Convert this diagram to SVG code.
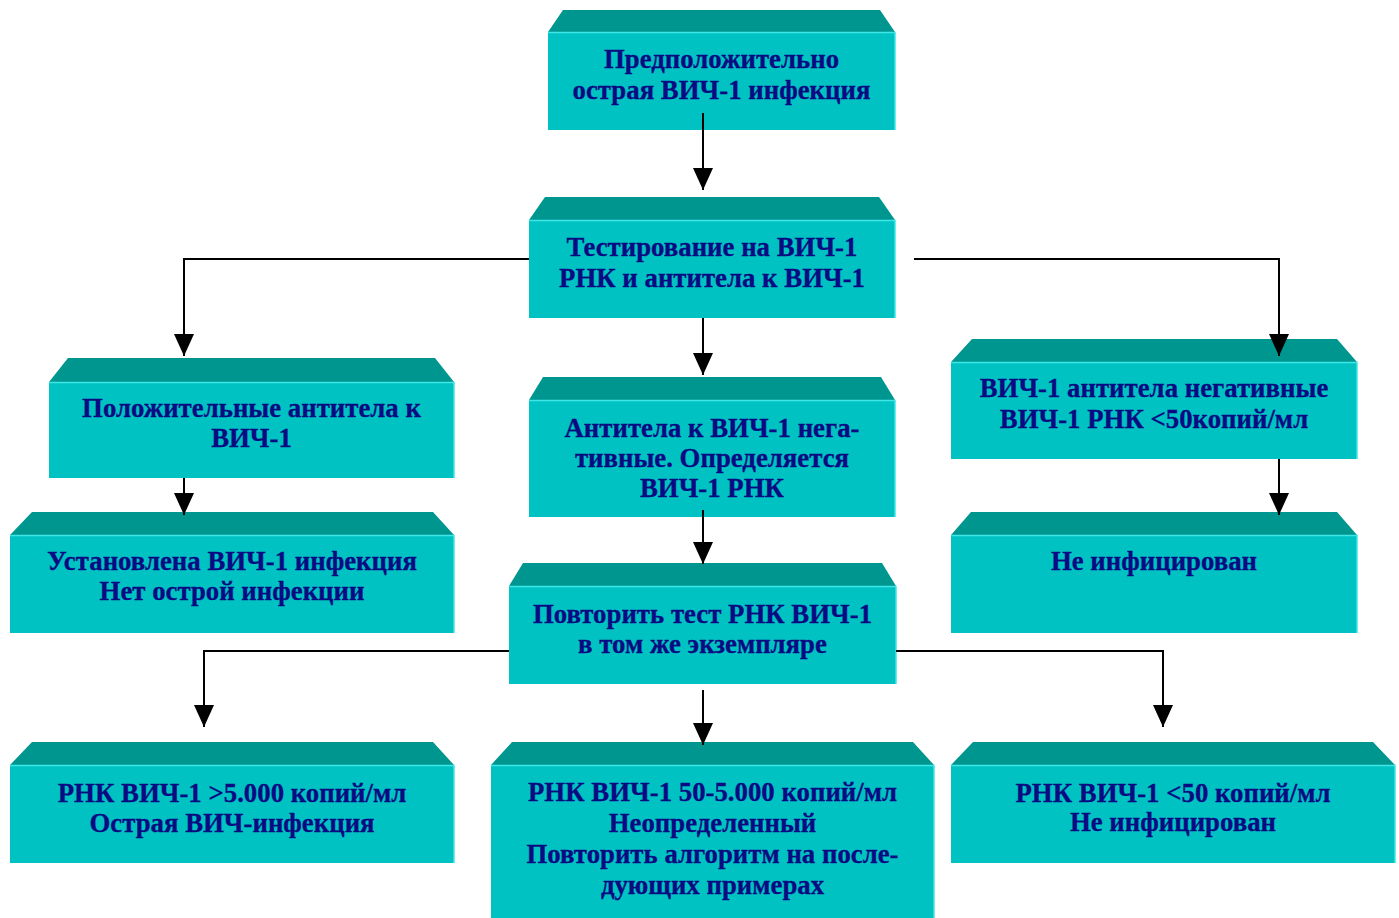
<svg xmlns="http://www.w3.org/2000/svg" width="1399" height="918" viewBox="0 0 1399 918">
<defs>
<style>
.body{fill:#00C2C2;}
.edge{fill:none;stroke:#3FE6E6;stroke-width:1.5;}
.bevel{fill:#009690;}
.t{font-family:"Liberation Serif","Times New Roman",serif;font-weight:bold;font-size:26.8px;fill:#0A0A82;stroke:#0A0A82;stroke-width:0.3;text-anchor:middle;}
.c{fill:none;stroke:#000;stroke-width:2;marker-end:url(#ah);}
</style>
<marker id="ah" markerUnits="userSpaceOnUse" markerWidth="22" markerHeight="20" refX="22" refY="10" orient="auto" viewBox="0 0 22 20">
<path d="M0,0 L22,10 L0,20 Z" fill="#000"/>
</marker>
</defs>
<rect width="1399" height="918" fill="#fff"/>

<g id="n1">
<polygon class="bevel" points="563,10 880,10 895,32 548,32"/>
<rect class="body" x="548" y="32" width="347" height="98"/>
<path class="edge" d="M548,32.5 H895 V130"/>
<text class="t" x="721.5" y="68">Предположительно</text>
<text class="t" x="721.5" y="99">острая ВИЧ-1 инфекция</text>
</g>

<g id="n2">
<polygon class="bevel" points="545,197 879,197 895,220 529,220"/>
<rect class="body" x="529" y="220" width="366" height="98"/>
<path class="edge" d="M529,220.5 H895 V318"/>
<text class="t" x="712" y="256">Тестирование на ВИЧ-1</text>
<text class="t" x="712" y="287">РНК и антитела к ВИЧ-1</text>
</g>

<g id="n3">
<polygon class="bevel" points="68,358 435,358 454,382 49,382"/>
<rect class="body" x="49" y="382" width="405" height="96"/>
<path class="edge" d="M49,382.5 H454 V478"/>
<text class="t" x="251.5" y="417">Положительные антитела к</text>
<text class="t" x="251.5" y="447">ВИЧ-1</text>
</g>

<g id="n4">
<polygon class="bevel" points="543,377 881,377 895,400 529,400"/>
<rect class="body" x="529" y="400" width="366" height="117"/>
<path class="edge" d="M529,400.5 H895 V517"/>
<text class="t" x="712" y="437">Антитела к ВИЧ-1 нега-</text>
<text class="t" x="712" y="467">тивные. Определяется</text>
<text class="t" x="712" y="497">ВИЧ-1 РНК</text>
</g>

<g id="n5">
<polygon class="bevel" points="972,339 1337,339 1357,362 951,362"/>
<rect class="body" x="951" y="362" width="406" height="97"/>
<path class="edge" d="M951,362.5 H1357 V459"/>
<text class="t" x="1154" y="397">ВИЧ-1 антитела негативные</text>
<text class="t" x="1154" y="428">ВИЧ-1 РНК &lt;50копий/мл</text>
</g>

<g id="n6">
<polygon class="bevel" points="971,512 1337,512 1357,535 951,535"/>
<rect class="body" x="951" y="535" width="406" height="98"/>
<path class="edge" d="M951,535.5 H1357 V633"/>
<text class="t" x="1154" y="570">Не инфицирован</text>
</g>

<g id="n7">
<polygon class="bevel" points="32,512 433,512 454,535 10,535"/>
<rect class="body" x="10" y="535" width="444" height="98"/>
<path class="edge" d="M10,535.5 H454 V633"/>
<text class="t" x="232" y="570">Установлена ВИЧ-1 инфекция</text>
<text class="t" x="232" y="600">Нет острой инфекции</text>
</g>

<g id="n8">
<polygon class="bevel" points="523,563 882,563 896,586 509,586"/>
<rect class="body" x="509" y="586" width="387" height="98"/>
<path class="edge" d="M509,586.5 H896 V684"/>
<text class="t" x="702.5" y="623">Повторить тест РНК ВИЧ-1</text>
<text class="t" x="702.5" y="653">в том же экземпляре</text>
</g>

<g id="n9">
<polygon class="bevel" points="32,742 433,742 454,765 10,765"/>
<rect class="body" x="10" y="765" width="444" height="98"/>
<path class="edge" d="M10,765.5 H454 V863"/>
<text class="t" x="232" y="802">РНК ВИЧ-1 &gt;5.000 копий/мл</text>
<text class="t" x="232" y="832">Острая ВИЧ-инфекция</text>
</g>

<g id="n10">
<polygon class="bevel" points="512,742 913,742 934,765 491,765"/>
<rect class="body" x="491" y="765" width="443" height="153"/>
<path class="edge" d="M491,765.5 H934 V918"/>
<text class="t" x="712.5" y="801">РНК ВИЧ-1 50-5.000 копий/мл</text>
<text class="t" x="712.5" y="832">Неопределенный</text>
<text class="t" x="712.5" y="863">Повторить алгоритм на после-</text>
<text class="t" x="712.5" y="894">дующих примерах</text>
</g>

<g id="n11">
<polygon class="bevel" points="973,742 1373,742 1395,765 951,765"/>
<rect class="body" x="951" y="765" width="444" height="98"/>
<path class="edge" d="M951,765.5 H1395 V863"/>
<text class="t" x="1173" y="802">РНК ВИЧ-1 &lt;50 копий/мл</text>
<text class="t" x="1173" y="831">Не инфицирован</text>
</g>

<g id="connectors">
<path class="c" d="M703,113 V190"/>
<path class="c" d="M529,259 H184 V356"/>
<path class="c" d="M914,259 H1279 V356"/>
<path class="c" d="M703,318 V375"/>
<path class="c" d="M184,478 V515"/>
<path class="c" d="M703,510 V564"/>
<path class="c" d="M1279,459 V515"/>
<path class="c" d="M509,651 H204 V727"/>
<path class="c" d="M896,651 H1163 V727"/>
<path class="c" d="M703,690 V745"/>
</g>
</svg>
